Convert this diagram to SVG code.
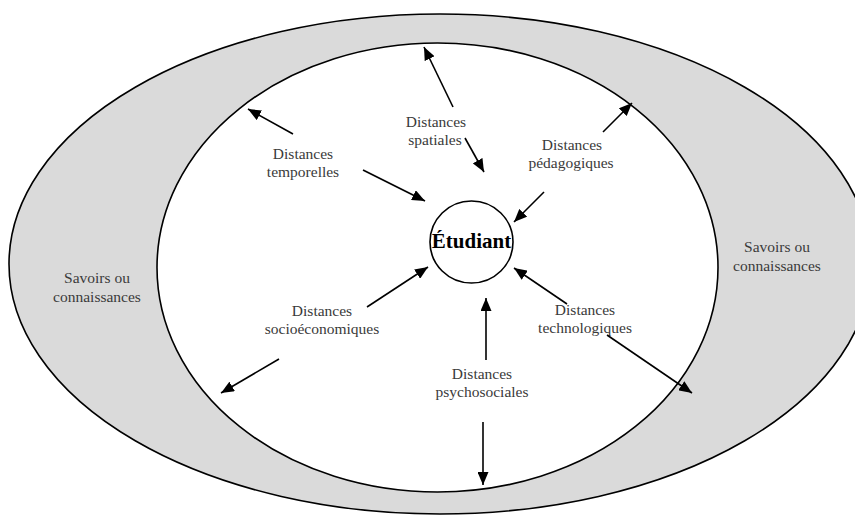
<svg xmlns="http://www.w3.org/2000/svg" width="855" height="515" viewBox="0 0 855 515">
  <style>
    .ring { stroke: #000; stroke-width: 1.6; }
    .lbl { font-family: "Liberation Serif", "Times New Roman", serif; font-size: 15.5px; fill: #3a3a3a; text-anchor: middle; }
    .main { font-family: "Liberation Serif", "Times New Roman", serif; font-size: 21px; font-weight: bold; fill: #000; text-anchor: middle; }
    .arr { stroke: #000; stroke-width: 1.6; fill: none; marker-end: url(#ah); }
  </style>
  <defs>
    <marker id="ah" markerUnits="userSpaceOnUse" markerWidth="13" markerHeight="11" refX="13" refY="5.5" orient="auto">
      <path d="M0,0 L13,5.5 L0,11 z" fill="#000"/>
    </marker>
  </defs>
  <rect width="855" height="515" fill="#fff"/>

  <g id="outer">
    <ellipse class="ring" cx="440" cy="264" rx="431" ry="250" fill="#dadada"/>
    <text class="lbl" x="97" y="283">Savoirs ou</text>
    <text class="lbl" x="97" y="302">connaissances</text>
    <text class="lbl" x="777" y="252">Savoirs ou</text>
    <text class="lbl" x="777" y="271">connaissances</text>
  </g>

  <g id="inner">
    <ellipse class="ring" cx="437.5" cy="267.5" rx="280.5" ry="224.5" fill="#fff"/>
  </g>

  <g id="etudiant">
    <ellipse class="ring" cx="471.5" cy="242" rx="41.5" ry="41" fill="#fff"/>
    <text class="main" x="471.5" y="248">Étudiant</text>
  </g>

  <g id="temporelles">
    <text class="lbl" x="303" y="159">Distances</text>
    <text class="lbl" x="303" y="177">temporelles</text>
  </g>
  <g id="spatiales">
    <text class="lbl" x="436" y="127">Distances</text>
    <text class="lbl" x="435" y="145">spatiales</text>
  </g>
  <g id="pedagogiques">
    <text class="lbl" x="572" y="150">Distances</text>
    <text class="lbl" x="571" y="168">pédagogiques</text>
  </g>
  <g id="socioeconomiques">
    <text class="lbl" x="322" y="316">Distances</text>
    <text class="lbl" x="322" y="334">socioéconomiques</text>
  </g>
  <g id="psychosociales">
    <text class="lbl" x="482" y="379">Distances</text>
    <text class="lbl" x="482" y="397">psychosociales</text>
  </g>
  <g id="technologiques">
    <text class="lbl" x="585" y="315">Distances</text>
    <text class="lbl" x="585" y="333">technologiques</text>
  </g>

  <g id="connectors">
    <line class="arr" x1="293" y1="134" x2="248" y2="109"/>
    <line class="arr" x1="363" y1="170" x2="425" y2="201"/>
    <line class="arr" x1="453" y1="107" x2="424" y2="47"/>
    <line class="arr" x1="465" y1="138" x2="484" y2="172"/>
    <line class="arr" x1="603" y1="132" x2="632" y2="103"/>
    <line class="arr" x1="544" y1="192" x2="514" y2="222"/>
    <line class="arr" x1="367" y1="307" x2="428" y2="267"/>
    <line class="arr" x1="279" y1="359" x2="221" y2="393"/>
    <line class="arr" x1="486" y1="360" x2="486" y2="298"/>
    <line class="arr" x1="483" y1="422" x2="483" y2="485"/>
    <line class="arr" x1="567" y1="304" x2="514" y2="268"/>
    <line class="arr" x1="607" y1="335" x2="692" y2="393"/>
  </g>
</svg>
